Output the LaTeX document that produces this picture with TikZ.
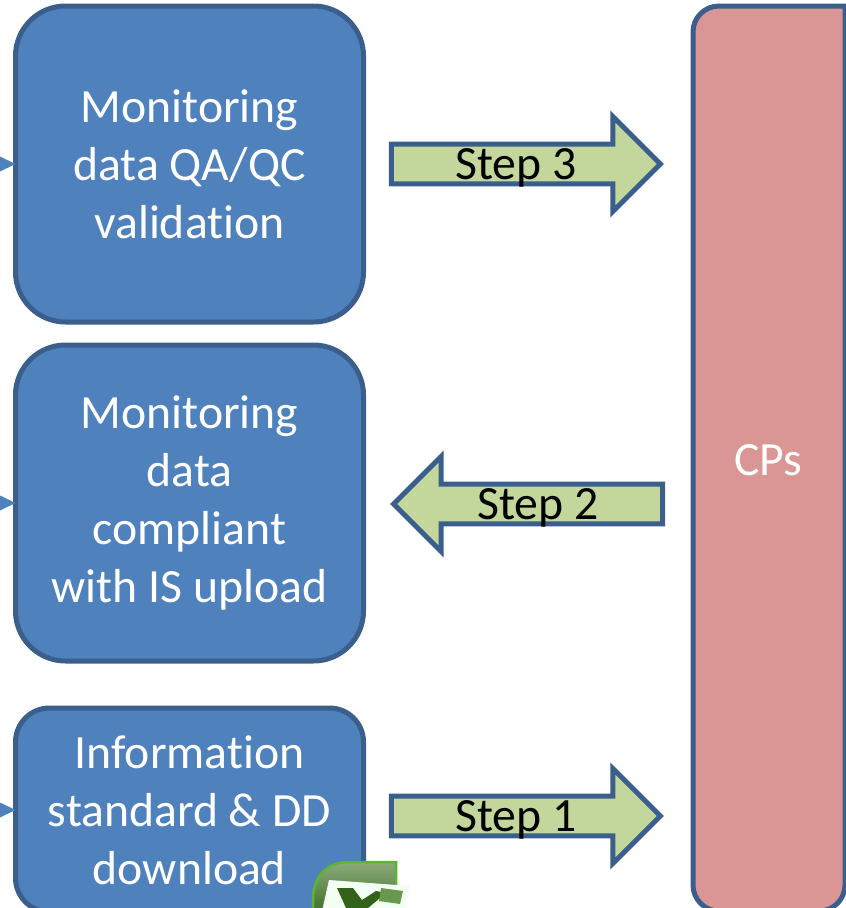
\documentclass[tikz,border=0pt]{standalone}
\usepackage{fontspec}
\setmainfont[Ligatures=CommonOff]{Carlito}
\usetikzlibrary{positioning,shapes.arrows}
\definecolor{boxblue}{HTML}{4F81BD}
\definecolor{edgeblue}{HTML}{3A5F8C}
\definecolor{stepgreen}{HTML}{C3D69B}
\definecolor{cpred}{HTML}{D99694}
\definecolor{xlgreen}{HTML}{5DB52F}
\tikzset{
	taskbox/.style={draw=edgeblue,fill=boxblue,line width=5pt,rounded corners=#1,text=white,align=center,
		minimum width=348pt,font=\fontsize{47.7}{58}\selectfont,inner sep=0pt,outer sep=0pt},
	stepbox/.style={draw=edgeblue,fill=stepgreen,line width=5pt,single arrow,single arrow tip angle=90,
		single arrow head extend=25pt,minimum height=269pt,minimum width=95pt,inner sep=0pt,outer sep=0pt,
		text=black,text depth=0pt,font=\fontsize{47.7}{50}\selectfont},
	intick/.style={fill=boxblue},
}
\begin{document}
\begin{tikzpicture}[x=1pt,y=-1pt]
	\path[use as bounding box,clip] (0,0) rectangle (846,908);
	% boxes on the left
	\node[taskbox=50pt,minimum height=316pt] (qaqc) at (189.5,164) {Monitoring\\data QA/QC\\validation};
	\node[taskbox=50pt,minimum height=316pt] (upload) at (189.5,503) {Monitoring\\data\\compliant\\with IS upload};
	\node[taskbox=34pt,minimum height=204pt] (standard) at (189.5,810) {Information\\standard \& DD\\download};
	% ends of the incoming arrows
	\fill[intick] (qaqc.west) -- (0,156.5) -- (0,171.5) -- cycle;
	\fill[intick] (upload.west) -- (0,495.5) -- (0,510.5) -- cycle;
	\fill[intick] (standard.west) -- (0,802.5) -- (0,817.5) -- cycle;
	% column on the right
	\draw[draw=edgeblue,fill=cpred,line width=5pt] (693,100) [rounded corners=26pt] -- (693,6) [sharp corners] -- (845,6)
		[rounded corners=26pt] -- (845,911) -- (693,911) -- cycle;
	\node[text=white,font=\fontsize{47.7}{50}\selectfont] (cps) at (768,460) {CPs};
	% steps
	\node[stepbox] (step3) at (516,164) {Step 3};
	\node[stepbox,shape border rotate=180] (step2) at (538,504) {Step 2};
	\node[stepbox] (step1) at (516,816) {Step 1};
	% spreadsheet icon
	\begin{scope}
		\shade[shading angle=-35,top color=white!35!xlgreen!55!gray,bottom color=xlgreen!55!black,draw=xlgreen,line width=2.5pt]
			(313,920) -- (313,900) .. controls (313,877) and (326,862) .. (348,862) -- (396,862) -- (396,920) -- cycle;
		\fill[white!95!green] (329,880) -- (410,886) -- (404,920) -- (320,920) -- cycle;
		\fill[xlgreen!55!black] (337,888) -- (353,888) -- (362,900) -- (376,891) -- (386,893) -- (368,908) -- (346,908) -- cycle;
		\fill[xlgreen!70!black!80!white] (381,888) -- (403,891) -- (400,904) -- (379,901) -- cycle;
	\end{scope}
\end{tikzpicture}
\end{document}
